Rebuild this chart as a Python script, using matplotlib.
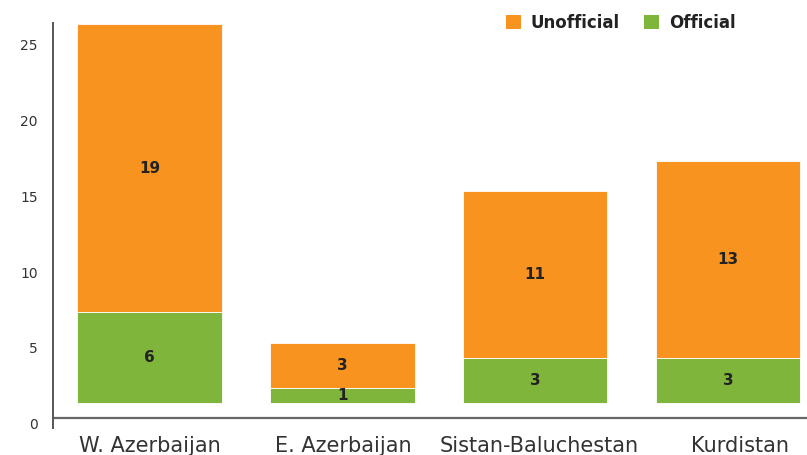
import matplotlib
matplotlib.use("Agg")
import matplotlib.pyplot as plt
from matplotlib.patches import Patch
from matplotlib.transforms import ScaledTranslation

categories = ["W. Azerbaijan", "E. Azerbaijan", "Sistan-Baluchestan", "Kurdistan"]
official = [6, 1, 3, 3]
unofficial = [19, 3, 11, 13]
ytick_values = [0, 5, 10, 15, 20, 25]

ORANGE = "#F7931E"
GREEN = "#80B53B"
TEXT = "#222222"
TICK_SHIFT = 1.35  # vertical offset of the axis labels in the original picture

plt.rcParams["font.family"] = ["DejaVu Sans"]

fig = plt.figure(figsize=(8.07, 4.55), dpi=100)
W, H = 807, 455
ax = fig.add_axes([53 / W, (H - 428) / H, 1 - 53 / W, (428 - 22.5) / H])

x = list(range(len(categories)))
ax.bar(x, official, width=0.75, color=GREEN, edgecolor="white", linewidth=0.6)
ax.bar(x, unofficial, bottom=official, width=0.75, color=ORANGE, edgecolor="white", linewidth=0.6)

for i in x:
    ax.text(i, official[i] / 2, str(official[i]), ha="center", va="center",
            fontsize=11, fontweight="bold", color=TEXT)
    ax.text(i, official[i] + unofficial[i] / 2, str(unofficial[i]), ha="center", va="center",
            fontsize=11, fontweight="bold", color=TEXT)

ax.set_xlim(-0.5, 3.41)
ax.set_ylim(-1.63, 25.1)
ax.set_yticks([v - TICK_SHIFT for v in ytick_values], labels=[str(v) for v in ytick_values])
ax.set_xticks(x, labels=categories)
ax.tick_params(axis="y", length=0, pad=11, labelsize=10, labelcolor="#333333")
ax.tick_params(axis="x", length=0, pad=6, labelsize=15, labelcolor="#333333")

# small horizontal nudges of the category labels seen in the original
nudges_px = [0, 1, 4, 12]
for lbl, dx in zip(ax.get_xticklabels(), nudges_px):
    lbl.set_transform(lbl.get_transform() + ScaledTranslation(dx / 100, 0, fig.dpi_scale_trans))

for s in ["top", "right", "bottom"]:
    ax.spines[s].set_visible(False)
ax.spines["left"].set_color("#555555")
ax.spines["left"].set_linewidth(1.4)
ax.axhline(-0.96, color="#666666", linewidth=1.6, zorder=0)

handles = [Patch(facecolor=ORANGE, label="Unofficial"), Patch(facecolor=GREEN, label="Official")]
fig.legend(handles=handles, loc="center left", bbox_to_anchor=(506 / W, 1 - 23 / H),
           ncol=2, frameon=False, handlelength=0.9, handleheight=0.9,
           handletextpad=0.6, columnspacing=1.45, borderpad=0, borderaxespad=0,
           prop={"weight": "bold", "size": 12})
for t in fig.legends[0].get_texts():
    t.set_color(TEXT)

fig.savefig("out.png", dpi=100)
